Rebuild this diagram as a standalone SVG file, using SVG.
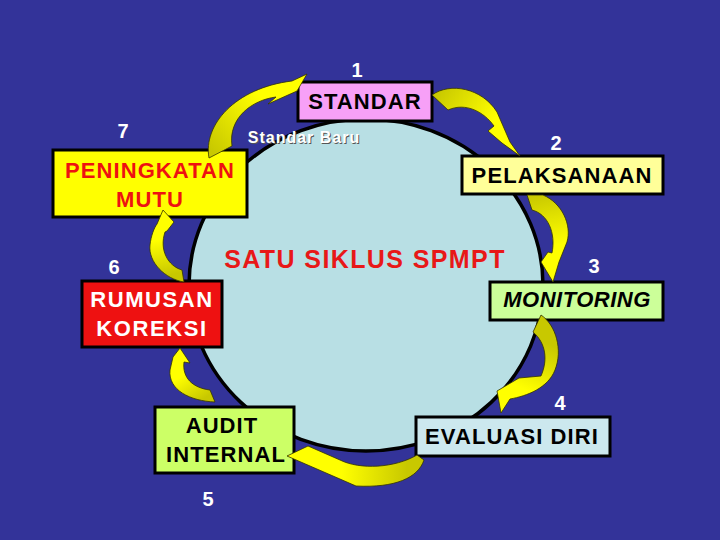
<svg xmlns="http://www.w3.org/2000/svg" width="720" height="540" viewBox="0 0 720 540">
<defs>
<style>
.box{stroke:#000;stroke-width:3}
.t{font-family:"Liberation Sans",Arial,sans-serif;font-size:22px;font-weight:bold;text-anchor:middle;letter-spacing:1.1px}
.num{font-family:"Liberation Sans",Arial,sans-serif;font-size:20px;font-weight:bold;fill:#fff;text-anchor:middle}
.arr{stroke:#333300;stroke-width:0.8;stroke-linejoin:round}
</style>
<linearGradient id="g1" gradientUnits="userSpaceOnUse" x1="215" y1="155" x2="305" y2="75"><stop offset="0" stop-color="#c8c800"/><stop offset="0.6" stop-color="#ffff00"/></linearGradient>
<linearGradient id="g2" gradientUnits="userSpaceOnUse" x1="435" y1="95" x2="520" y2="155"><stop offset="0" stop-color="#c8c800"/><stop offset="0.6" stop-color="#ffff00"/></linearGradient>
<linearGradient id="g3" gradientUnits="userSpaceOnUse" x1="535" y1="195" x2="553" y2="282"><stop offset="0" stop-color="#c8c800"/><stop offset="0.6" stop-color="#ffff00"/></linearGradient>
<linearGradient id="g4" gradientUnits="userSpaceOnUse" x1="540" y1="318" x2="500" y2="412"><stop offset="0.2" stop-color="#c8c800"/><stop offset="0.7" stop-color="#ffff00"/></linearGradient>
<linearGradient id="g5" gradientUnits="userSpaceOnUse" x1="420" y1="458" x2="290" y2="456"><stop offset="0.1" stop-color="#c8c800"/><stop offset="0.6" stop-color="#ffff00"/></linearGradient>
<linearGradient id="g6" gradientUnits="userSpaceOnUse" x1="213" y1="400" x2="180" y2="348"><stop offset="0.1" stop-color="#c8c800"/><stop offset="0.6" stop-color="#ffff00"/></linearGradient>
<linearGradient id="g7" gradientUnits="userSpaceOnUse" x1="175" y1="281" x2="163" y2="210"><stop offset="0.1" stop-color="#c8c800"/><stop offset="0.6" stop-color="#ffff00"/></linearGradient>
</defs>
<rect width="720" height="540" fill="#333399"/>
<ellipse id="cycle" cx="366" cy="285" rx="177" ry="166" fill="#b8dfe4" stroke="#000" stroke-width="3.5"/>
<text class="t" x="365" y="268" fill="#e81818" style="font-size:25px;letter-spacing:1.4px">SATU SIKLUS SPMPT</text>
<text x="305" y="144" fill="#555" style="font-family:'Liberation Sans',Arial,sans-serif;font-size:16px;font-weight:bold;text-anchor:middle;letter-spacing:1px">Standar Baru</text>
<text x="304" y="143" fill="#fff" style="font-family:'Liberation Sans',Arial,sans-serif;font-size:16px;font-weight:bold;text-anchor:middle;letter-spacing:1px">Standar Baru</text>

<g id="n1">
<text class="num" x="357" y="77">1</text>
<rect class="box" x="298" y="82" width="134" height="39" fill="#f7a0f7"/>
<text class="t" x="365" y="109" fill="#000">STANDAR</text>
</g>
<g id="n2">
<text class="num" x="556" y="150">2</text>
<rect class="box" x="462" y="156" width="201" height="38" fill="#ffff99"/>
<text class="t" x="562" y="183" fill="#000">PELAKSANAAN</text>
</g>
<g id="n3">
<text class="num" x="594" y="273">3</text>
<rect class="box" x="490" y="282" width="173" height="38" fill="#ccff99"/>
<text class="t" x="577" y="307" fill="#000" font-style="italic" style="letter-spacing:0.5px">MONITORING</text>
</g>
<g id="n4">
<text class="num" x="560" y="410">4</text>
<rect class="box" x="416" y="417" width="194" height="39" fill="#cce8ee"/>
<text class="t" x="512" y="444" fill="#000">EVALUASI DIRI</text>
</g>
<g id="n5">
<text class="num" x="208" y="506">5</text>
<rect class="box" x="155" y="407" width="139" height="66" fill="#ccff66"/>
<text class="t" x="222" y="433" fill="#000">AUDIT</text>
<text class="t" x="226" y="462" fill="#000">INTERNAL</text>
</g>
<g id="n6">
<text class="num" x="114" y="274">6</text>
<rect class="box" x="82" y="281" width="140" height="66" fill="#ee1111"/>
<text class="t" x="152" y="307" fill="#fff" style="letter-spacing:1.6px">RUMUSAN</text>
<text class="t" x="152" y="336" fill="#fff" style="letter-spacing:1.6px">KOREKSI</text>
</g>
<g id="n7">
<text class="num" x="123" y="138">7</text>
<rect class="box" x="53" y="150" width="194" height="67" fill="#ffff00"/>
<text class="t" x="150" y="178" fill="#ee1111">PENINGKATAN</text>
<text class="t" x="150" y="207" fill="#ee1111">MUTU</text>
</g>

<g id="connectors">
<path class="arr" fill="url(#g1)" d="M209,158 C203,125 235,88 292,81 L307,74 L297,91 L268,104 L276,97 C252,100 228,118 232,146 Z"/>
<path class="arr" fill="url(#g2)" d="M432,95 C450,82 482,88 497,112 L510,142 L520,156 L502,143 L488,131 L494,126 C484,112 466,102 448,110 Z"/>
<path class="arr" fill="url(#g3)" d="M527,195 L543,195 C562,203 572,225 567,242 L559,262 L553,282 L541,262 L548,252 L552,253 C556,233 548,214 532,210 Z"/>
<path class="arr" fill="url(#g4)" d="M541,315 C556,325 563,350 555,370 C548,388 527,396 510,399 L501,413 L497,391 L519,378 L541,376 C548,360 546,343 533,332 Z"/>
<path class="arr" fill="url(#g5)" d="M424,460 C418,478 395,488 356,486 L287,456 L308,446 L340,460 C360,470 395,468 417,455 Z"/>
<path class="arr" fill="url(#g6)" d="M215,402 C190,401 168,390 170,370 L173,357 L180,348 L190,363 L184,362 C182,378 193,388 210,390 Z"/>
<path class="arr" fill="url(#g7)" d="M184,282 C165,279 148,262 150,245 C151,236 154,228 157,224 L163,210 L174,222 L167,231 L165,232 C159,250 168,266 182,270 Z"/>
</g>
</svg>
